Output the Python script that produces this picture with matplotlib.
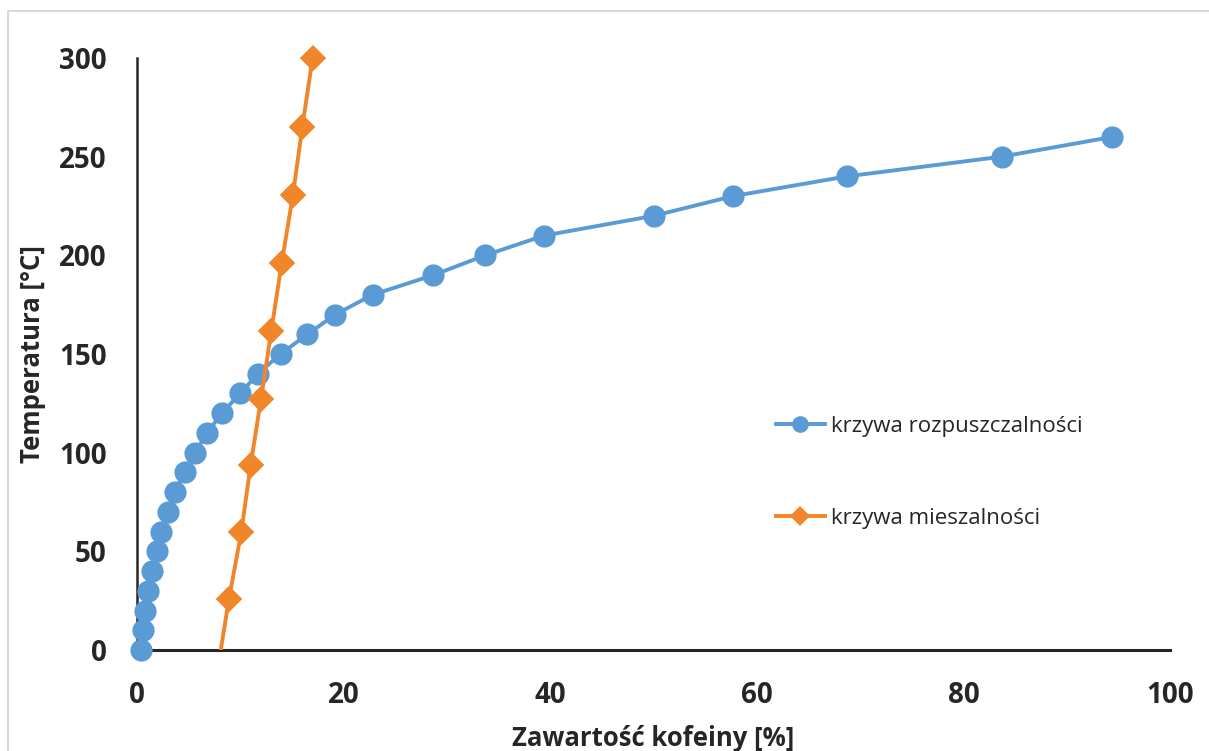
import matplotlib
matplotlib.use("Agg")
import matplotlib.pyplot as plt
from matplotlib.patches import Rectangle

# Solubility curve (krzywa rozpuszczalności)
sol_x = [0.4, 0.6, 0.8, 1.1, 1.5, 1.9, 2.3, 3.0, 3.7, 4.6, 5.6, 6.8, 8.2, 10.0,
         11.7, 13.9, 16.5, 19.2, 22.8, 28.7, 33.7, 39.4, 50.0, 57.7, 68.7, 83.7, 94.4]
sol_y = [0, 10, 20, 30, 40, 50, 60, 70, 80, 90, 100, 110, 120, 130,
         140, 150, 160, 170, 180, 190, 200, 210, 220, 230, 240, 250, 260]

# Miscibility curve (krzywa mieszalności); first point lies below the axis range
mis_x = [7.5, 8.9, 10.1, 11.0, 12.0, 13.0, 14.0, 15.1, 16.0, 17.0]
mis_y = [-20, 25.9, 59.8, 93.8, 127, 161.7, 196, 230.6, 265, 300]

x_ticks = [0, 20, 40, 60, 80, 100]
y_ticks = [0, 50, 100, 150, 200, 250, 300]

BLUE = "#5B9BD5"
ORANGE = "#F0852A"
TEXT = "#262626"

plt.rcParams["font.family"] = ["Open Sans", "DejaVu Sans"]

fig = plt.figure(figsize=(12.09, 7.51), dpi=100)
W, H = 1209, 751

# light frame around the chart area
fig.patches.append(Rectangle((8 / W, -0.1), 1.2, (H - 11) / H + 0.1,
                             transform=fig.transFigure, fill=False,
                             edgecolor="#D9D9D9", linewidth=1.5))

ax = fig.add_axes([137 / W, (H - 650) / H, (1170 - 137) / W, (650 - 58) / H])

ax.plot(sol_x, sol_y, color=BLUE, linewidth=2.8, marker="o", markersize=16,
        markeredgewidth=0, label="krzywa rozpuszczalności", zorder=3, clip_on=False)

# miscibility line is clipped at the x axis; its markers may overhang the box
ax.plot(mis_x, mis_y, color=ORANGE, linewidth=2.8, marker="D", markersize=13.5,
        markeredgewidth=0, markevery=slice(1, None),
        label="krzywa mieszalności", zorder=4)
ax.plot(mis_x, mis_y, linestyle="none", color=ORANGE, marker="D", markersize=13.5,
        markeredgewidth=0, markevery=slice(1, None), zorder=5, clip_on=False)

ax.set_xlim(0, 100)
ax.set_ylim(0, 300)

for s in ["top", "right"]:
    ax.spines[s].set_visible(False)
ax.spines["left"].set_color(TEXT)
ax.spines["bottom"].set_color(TEXT)
ax.spines["left"].set_linewidth(1.8)
ax.spines["bottom"].set_linewidth(2.2)

ax.set_xticks(x_ticks)
ax.set_yticks(y_ticks)
ax.tick_params(length=0, labelsize=20, colors=TEXT)
ax.tick_params(axis="x", pad=22)
ax.tick_params(axis="y", pad=22)
for lab in ax.get_xticklabels() + ax.get_yticklabels():
    lab.set_fontweight("bold")

ax.set_xlabel("Zawartość kofeiny [%]", fontsize=18.5, fontweight="bold",
              color=TEXT, labelpad=11)
ax.set_ylabel("Temperatura [°C]", fontsize=18.5, fontweight="bold",
              color=TEXT, labelpad=9)

leg = ax.legend(loc="center left", bbox_to_anchor=(0.599, 0.300), frameon=False,
                fontsize=16, labelspacing=3.2, handlelength=2.2,
                handletextpad=0.3, markerscale=0.75)
for t in leg.get_texts():
    t.set_color(TEXT)

fig.savefig("out.png", dpi=100)
